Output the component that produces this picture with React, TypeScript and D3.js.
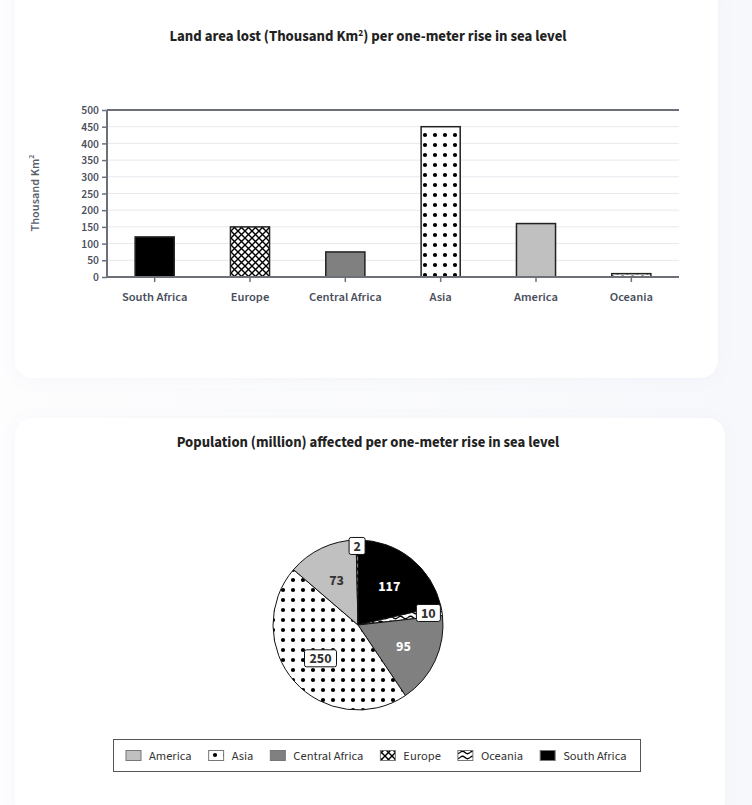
import React, { useEffect, useRef } from "react";
import * as d3 from "d3";

const barCategories = ["South Africa", "Europe", "Central Africa", "Asia", "America", "Oceania"];
const barValues = [120, 150, 75, 450, 160, 10];
const yTicks = [0, 50, 100, 150, 200, 250, 300, 350, 400, 450, 500];

const pieCategories = ["South Africa", "Oceania", "Central Africa", "Asia", "America", "Europe"];
const pieValues = [117, 10, 95, 250, 73, 2];

const legendCategories = ["America", "Asia", "Central Africa", "Europe", "Oceania", "South Africa"];

const FONT = "'Source Sans Pro', 'Source Sans 3', Lato, 'Noto Sans', sans-serif";

const fillFor: Record<string, string> = {
  "South Africa": "#000000",
  Europe: "url(#pat-cross)",
  "Central Africa": "#808080",
  Asia: "url(#pat-dots)",
  America: "#c0c0c0",
  Oceania: "url(#pat-wave)",
};
const patterned = new Set(["Europe", "Asia", "Oceania"]);
const labelColor: Record<string, string> = {
  "South Africa": "#ffffff",
  "Central Africa": "#ffffff",
  America: "#333333",
};

export default function App() {
  const ref = useRef<SVGSVGElement>(null);

  useEffect(() => {
    const svg = d3.select(ref.current);
    svg.selectAll("*").remove();

    const defs = svg.append("defs");
    const f = defs.append("filter").attr("id", "shadow").attr("x", "-10%").attr("y", "-10%").attr("width", "120%").attr("height", "120%");
    f.append("feDropShadow").attr("dx", 0).attr("dy", 2).attr("stdDeviation", 7).attr("flood-color", "#8090c0").attr("flood-opacity", 0.06);

    const bg = defs.append("linearGradient").attr("id", "bg").attr("x1", "0").attr("y1", "0").attr("x2", "1").attr("y2", "0");
    bg.append("stop").attr("offset", "0").attr("stop-color", "#fdfdfe");
    bg.append("stop").attr("offset", "1").attr("stop-color", "#f7f8fb");

    const dots = defs.append("pattern").attr("id", "pat-dots").attr("patternUnits", "userSpaceOnUse").attr("width", 10).attr("height", 10);
    dots.append("rect").attr("width", 10).attr("height", 10).attr("fill", "#fff");
    dots.append("circle").attr("cx", 5).attr("cy", 5).attr("r", 2.1).attr("fill", "#000");

    const cross = defs.append("pattern").attr("id", "pat-cross").attr("patternUnits", "userSpaceOnUse").attr("width", 7).attr("height", 7);
    cross.append("rect").attr("width", 7).attr("height", 7).attr("fill", "#fff");
    cross.append("path").attr("d", "M0,0L7,7M7,0L0,7").attr("stroke", "#000").attr("stroke-width", 1.4);

    const wave = defs.append("pattern").attr("id", "pat-wave").attr("patternUnits", "userSpaceOnUse").attr("width", 10).attr("height", 5);
    wave.append("rect").attr("width", 10).attr("height", 5).attr("fill", "#fff");
    wave.append("path").attr("d", "M0,2.5 Q2.5,0 5,2.5 T10,2.5").attr("stroke", "#000").attr("stroke-width", 1.2).attr("fill", "none");

    svg.append("rect").attr("width", 752).attr("height", 805).attr("fill", "url(#bg)");
    svg.append("rect").attr("x", 15).attr("y", -20).attr("width", 703).attr("height", 398).attr("rx", 18).attr("fill", "#ffffff").attr("filter", "url(#shadow)");
    svg.append("rect").attr("x", 15).attr("y", 418).attr("width", 710).attr("height", 400).attr("rx", 18).attr("fill", "#ffffff").attr("filter", "url(#shadow)");

    // ---------- Bar chart ----------
    const left = 107, right = 679, top = 110, bottom = 277;
    const x = d3.scaleBand().domain(barCategories).range([left, right]).paddingInner(0.59).paddingOuter(0.295);
    const y = d3.scaleLinear().domain([0, 500]).range([bottom, top]);

    const t1 = svg.append("text").attr("x", 368).attr("y", 41).attr("text-anchor", "middle")
      .attr("font-family", FONT).attr("font-size", 14.8).attr("font-weight", 700).attr("fill", "#222");
    t1.append("tspan").text("Land area lost (Thousand Km");
    t1.append("tspan").text("2").attr("font-size", 9.5).attr("dy", -5);
    t1.append("tspan").text(") per one-meter rise in sea level").attr("dy", 5);

    const g = svg.append("g");
    g.selectAll("line.grid").data(yTicks.filter((d) => d > 0 && d < 500)).join("line")
      .attr("x1", left).attr("x2", right).attr("y1", (d) => y(d)).attr("y2", (d) => y(d))
      .attr("stroke", "#e8e9ee").attr("stroke-width", 1);

    const yAxis = g.append("g").attr("transform", `translate(${left},0)`)
      .call(d3.axisLeft(y).tickValues(yTicks).tickSize(5).tickPadding(3));
    yAxis.select(".domain").remove();
    yAxis.selectAll("line").attr("stroke", "#6e7079").attr("stroke-width", 1.5);
    yAxis.selectAll("text").attr("font-family", FONT).attr("font-size", 11.5).attr("font-weight", 600).attr("fill", "#4a4f5c");

    g.selectAll("rect.bar").data(barCategories).join("rect")
      .attr("x", (d) => x(d)!).attr("width", x.bandwidth())
      .attr("y", (d, i) => y(barValues[i])).attr("height", (d, i) => y(0) - y(barValues[i]))
      .attr("fill", (d) => fillFor[d]).attr("stroke", "#222").attr("stroke-width", 1.5);

    g.append("path").attr("d", `M${left},${top}L${right},${top}`).attr("stroke", "#6e7079").attr("stroke-width", 2);
    g.append("path").attr("d", `M${left},${top}L${left},${bottom}`).attr("stroke", "#6e7079").attr("stroke-width", 2);

    const xAxis = g.append("g").attr("transform", `translate(0,${bottom})`)
      .call(d3.axisBottom(x).tickSize(5).tickPadding(10));
    xAxis.select(".domain").attr("stroke", "#6e7079").attr("stroke-width", 2).attr("d", `M${left},0H${right}`);
    xAxis.selectAll("line").attr("stroke", "#6e7079").attr("stroke-width", 1.5);
    xAxis.selectAll("text").attr("font-family", FONT).attr("font-size", 12.5).attr("font-weight", 600).attr("fill", "#4a4f5c");

    const yl = svg.append("text").attr("transform", `translate(39,193) rotate(-90)`).attr("text-anchor", "middle")
      .attr("font-family", FONT).attr("font-size", 12.3).attr("font-weight", 600).attr("fill", "#5a5f6c");
    yl.append("tspan").text("Thousand Km");
    yl.append("tspan").text("2").attr("font-size", 8).attr("dy", -5);

    // ---------- Pie chart ----------
    svg.append("text").attr("x", 368).attr("y", 447).attr("text-anchor", "middle")
      .attr("font-family", FONT).attr("font-size", 14.7).attr("font-weight", 700).attr("fill", "#222")
      .text("Population (million) affected per one-meter rise in sea level");

    const cx = 358, cy = 625, r = 85;
    const pie = d3.pie<number>().sort(null).value((d) => d);
    const arcs = pie(pieValues);
    const arc = d3.arc<d3.PieArcDatum<number>>().innerRadius(0).outerRadius(r);
    const pg = svg.append("g").attr("transform", `translate(${cx},${cy})`);
    pg.selectAll("path").data(arcs).join("path")
      .attr("d", arc as any).attr("fill", (d, i) => fillFor[pieCategories[i]])
      .attr("stroke", "#111").attr("stroke-width", 1);

    arcs.forEach((a, i) => {
      const cat = pieCategories[i];
      const frac = (a.endAngle - a.startAngle) / (2 * Math.PI);
      const lr = frac < 0.01 ? r * 0.93 : frac < 0.05 ? r * 0.84 : r * 0.59;
      const mid = (a.startAngle + a.endAngle) / 2;
      const lx = Math.sin(mid) * lr, ly = -Math.cos(mid) * lr;
      const txt = String(pieValues[i]);
      if (patterned.has(cat)) {
        const w = txt.length * 8 + 8;
        pg.append("rect").attr("x", lx - w / 2).attr("y", ly - 8.5).attr("width", w).attr("height", 17).attr("rx", 2)
          .attr("fill", "#fff").attr("stroke", "#111").attr("stroke-width", 1);
      }
      pg.append("text").attr("x", lx).attr("y", ly).attr("dy", "0.36em").attr("text-anchor", "middle")
        .attr("font-family", FONT).attr("font-size", 14).attr("font-weight", 700)
        .attr("fill", patterned.has(cat) ? "#333" : labelColor[cat]).text(txt);
    });

    // ---------- Legend ----------
    svg.append("rect").attr("x", 113.5).attr("y", 739.5).attr("width", 527).attr("height", 32)
      .attr("fill", "#fff").attr("stroke", "#555").attr("stroke-width", 1);
    const lg = svg.append("g");
    let lx = 126;
    legendCategories.forEach((cat) => {
      lg.append("rect").attr("x", lx).attr("y", 750.5).attr("width", 15).attr("height", 10)
        .attr("fill", fillFor[cat]).attr("stroke", "#777").attr("stroke-width", 1);
      const t = lg.append("text").attr("x", lx + 23).attr("y", 756).attr("dy", "0.35em")
        .attr("font-family", FONT).attr("font-size", 12.5).attr("fill", "#333").text(cat);
      const w = (t.node() as SVGTextElement).getComputedTextLength();
      lx = lx + 23 + w + 17;
    });
  }, []);

  return (
    <div style={{ position: "absolute", left: 0, top: 0 }}>
      <svg ref={ref} width={752} height={805} style={{ display: "block" }} />
    </div>
  );
}
